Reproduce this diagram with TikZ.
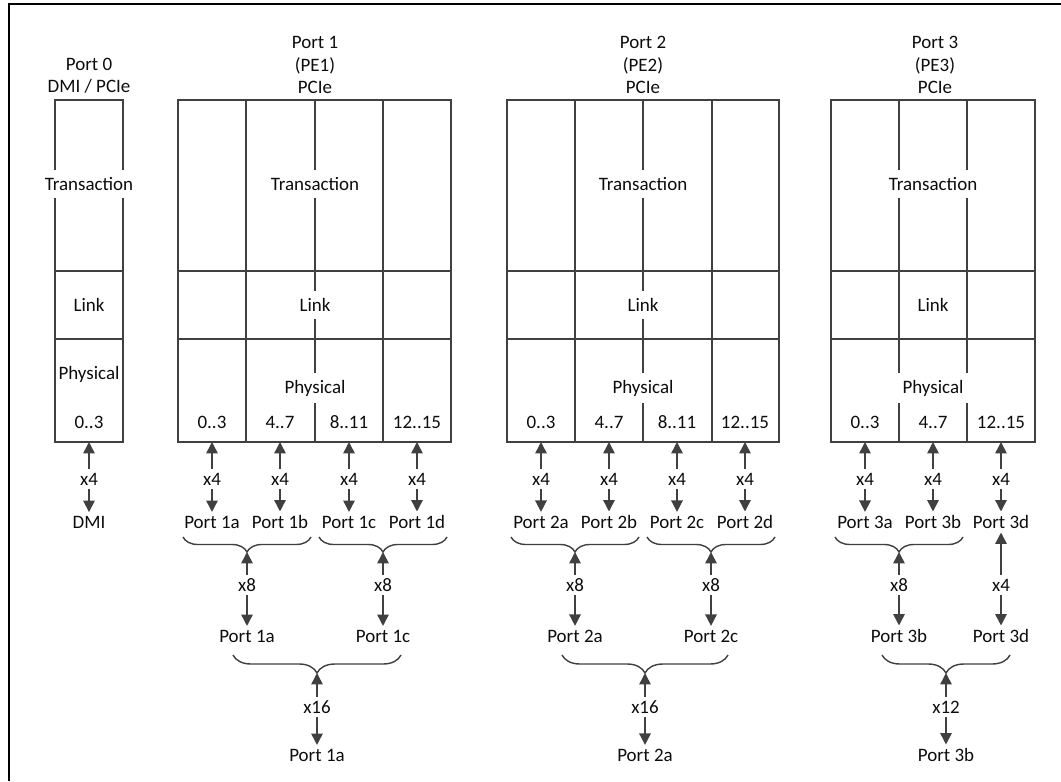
\documentclass[tikz,border=0pt]{standalone}
\usepackage{fontspec}
\setmainfont{Carlito}
\usetikzlibrary{arrows.meta,decorations.pathreplacing}
\definecolor{linegray}{HTML}{404040}
\definecolor{textgray}{HTML}{0D0D0D}

\begin{document}
\begin{tikzpicture}[x=0.02cm, y=-0.02cm,
    font=\fontsize{10.8}{12.6}\selectfont, text=textgray,
    box/.style={draw=linegray, line width=0.8pt},
    layer/.style={fill=white, inner xsep=3pt, inner ysep=4pt},
    plain/.style={inner sep=2pt},
    title/.style={align=center, inner sep=1pt},
    conn/.style={draw=linegray, line width=0.9pt, -{Triangle[width=6.5pt,length=6.5pt]}},
    brc/.style={draw=linegray, line width=0.8pt, decorate,
        decoration={brace, mirror, amplitude=#1}},
    brc/.default=0.3cm
]

    \useasboundingbox (0,0) rectangle (1061,781);

    % Frame
    \draw[line width=0.8pt] (9,781) -- (9,4) -- (1061,4);

    % Port 0
    \node[title] (t0) at (89,76) {Port 0\\DMI / PCIe};
    \draw[box] (55,100) rectangle (123,442);
    \draw[box] (55,271) -- (123,271);
    \draw[box] (55,339) -- (123,339);
    \node[layer] (tr0) at (89,184) {Transaction};
    \node[plain] (lk0) at (89,305) {Link};
    \node[plain] (ph0) at (89,374) {Physical};
    \node[plain] (ln0) at (89,422) {0..3};
    \coordinate (e0) at (89,442);
    \node[plain] (w0) at (89,479) {x4};
    \node[plain] (dmi) at (89,522) {DMI};
    \draw[conn] (w0) -- (e0);
    \draw[conn] (w0) -- (dmi);

    % Port 1
    \node[title] (t1) at (315,65) {Port 1\\(PE1)\\PCIe};
    \draw[box] (178,100) rectangle (451,442);
    \draw[box] (178,271) -- (451,271);
    \draw[box] (178,339) -- (451,339);
    \foreach \x in {246,315,383}
        \draw[box] (\x,100) -- (\x,442);
    \node[layer] (tr1) at (315,184) {Transaction};
    \node[layer] (lk1) at (315,305) {Link};
    \node[layer] (ph1) at (315,388) {Physical};
    \foreach \x/\n/\l in {212/a/{0..3}, 280/b/{4..7}, 349/c/{8..11}, 417/d/{12..15}} {
        \node[plain] (ln1\n) at (\x,422) {\l};
        \coordinate (e1\n) at (\x,442);
        \node[plain] (w1\n) at (\x,479) {x4};
        \node[plain] (p1\n) at (\x,522) {Port 1\n};
        \draw[conn] (w1\n) -- (e1\n);
        \draw[conn] (w1\n) -- (p1\n);
    }
    \draw[brc] (183,537) -- (311,537);
    \draw[brc] (319,537) -- (447,537);
    \coordinate (b1ab) at (247,552);
    \coordinate (b1cd) at (383,552);
    \node[plain] (w1ab) at (247,585) {x8};
    \node[plain] (w1cd) at (383,585) {x8};
    \node[plain] (q1a) at (247,636) {Port 1a};
    \node[plain] (q1c) at (383,636) {Port 1c};
    \draw[conn] (w1ab) -- (b1ab);
    \draw[conn] (w1ab) -- (q1a);
    \draw[conn] (w1cd) -- (b1cd);
    \draw[conn] (w1cd) -- (q1c);
    \draw[brc=0.36cm] (233,655) -- (401,655);
    \coordinate (b1) at (317,673);
    \node[plain] (w1) at (317,707) {x16};
    \node[plain] (r1a) at (317,755) {Port 1a};
    \draw[conn] (w1) -- (b1);
    \draw[conn] (w1) -- (r1a);

    % Port 2
    \node[title] (t2) at (643,65) {Port 2\\(PE2)\\PCIe};
    \draw[box] (507,100) rectangle (779,442);
    \draw[box] (507,271) -- (779,271);
    \draw[box] (507,339) -- (779,339);
    \foreach \x in {575,643,712}
        \draw[box] (\x,100) -- (\x,442);
    \node[layer] (tr2) at (643,184) {Transaction};
    \node[layer] (lk2) at (643,305) {Link};
    \node[layer] (ph2) at (643,388) {Physical};
    \foreach \x/\n/\l in {541/a/{0..3}, 609/b/{4..7}, 677/c/{8..11}, 745/d/{12..15}} {
        \node[plain] (ln2\n) at (\x,422) {\l};
        \coordinate (e2\n) at (\x,442);
        \node[plain] (w2\n) at (\x,479) {x4};
        \node[plain] (p2\n) at (\x,522) {Port 2\n};
        \draw[conn] (w2\n) -- (e2\n);
        \draw[conn] (w2\n) -- (p2\n);
    }
    \draw[brc] (511,537) -- (639,537);
    \draw[brc] (647,537) -- (775,537);
    \coordinate (b2ab) at (575,552);
    \coordinate (b2cd) at (711,552);
    \node[plain] (w2ab) at (575,585) {x8};
    \node[plain] (w2cd) at (711,585) {x8};
    \node[plain] (q2a) at (575,636) {Port 2a};
    \node[plain] (q2c) at (711,636) {Port 2c};
    \draw[conn] (w2ab) -- (b2ab);
    \draw[conn] (w2ab) -- (q2a);
    \draw[conn] (w2cd) -- (b2cd);
    \draw[conn] (w2cd) -- (q2c);
    \draw[brc=0.36cm] (562,655) -- (728,655);
    \coordinate (b2) at (645,673);
    \node[plain] (w2) at (645,707) {x16};
    \node[plain] (r2a) at (645,755) {Port 2a};
    \draw[conn] (w2) -- (b2);
    \draw[conn] (w2) -- (r2a);

    % Port 3
    \node[title] (t3) at (935,65) {Port 3\\(PE3)\\PCIe};
    \draw[box] (831,100) rectangle (1035,442);
    \draw[box] (831,271) -- (1035,271);
    \draw[box] (831,339) -- (1035,339);
    \foreach \x in {899,967}
        \draw[box] (\x,100) -- (\x,442);
    \node[layer] (tr3) at (933,184) {Transaction};
    \node[plain] (lk3) at (933,305) {Link};
    \node[layer] (ph3) at (933,388) {Physical};
    \foreach \x/\n/\l in {865/a/{0..3}, 933/b/{4..7}, 1001/d/{12..15}} {
        \node[plain] (ln3\n) at (\x,422) {\l};
        \coordinate (e3\n) at (\x,442);
        \node[plain] (w3\n) at (\x,479) {x4};
        \node[plain] (p3\n) at (\x,522) {Port 3\n};
        \draw[conn] (w3\n) -- (e3\n);
        \draw[conn] (w3\n) -- (p3\n);
    }
    \draw[brc] (835,537) -- (963,537);
    \coordinate (b3ab) at (899,552);
    \node[plain] (w3ab) at (899,585) {x8};
    \node[plain] (w3dd) at (1001,585) {x4};
    \node[plain] (q3b) at (899,636) {Port 3b};
    \node[plain] (q3d) at (1001,636) {Port 3d};
    \draw[conn] (w3ab) -- (b3ab);
    \draw[conn] (w3ab) -- (q3b);
    \draw[conn] (w3dd) -- (p3d);
    \draw[conn] (w3dd) -- (q3d);
    \draw[brc=0.36cm] (882,655) -- (1010,655);
    \coordinate (b3) at (946,673);
    \node[plain] (w3) at (946,707) {x12};
    \node[plain] (r3b) at (946,755) {Port 3b};
    \draw[conn] (w3) -- (b3);
    \draw[conn] (w3) -- (r3b);

\end{tikzpicture}
\end{document}
